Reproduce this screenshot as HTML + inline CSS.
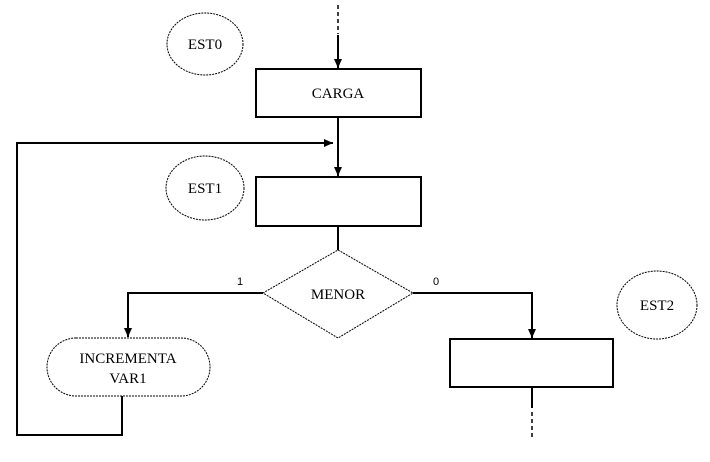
<!DOCTYPE html>
<html><head><meta charset="utf-8"><style>html,body{margin:0;padding:0;background:#fff}svg{display:block}</style></head>
<body>
<svg width="710" height="462" viewBox="0 0 710 462" xmlns="http://www.w3.org/2000/svg" font-family="Liberation Serif, serif" font-size="15" fill="none" stroke="#000" stroke-width="2">
<defs><marker id="a" markerWidth="10" markerHeight="10" refX="9" refY="5" orient="auto" markerUnits="userSpaceOnUse"><path d="M0,1 L9,5 L0,9 z" fill="#000" stroke="none"/></marker></defs>
<line x1="338" y1="5" x2="338" y2="34" stroke-width="1.5" stroke-dasharray="4,3"/>
<line x1="338" y1="35" x2="338" y2="68" marker-end="url(#a)"/>
<ellipse cx="205" cy="44" rx="38" ry="31" stroke-width="1" stroke-dasharray="2,1"/>
<rect x="256" y="69" width="165" height="48"/>
<line x1="338" y1="117" x2="338" y2="176" marker-end="url(#a)"/>
<polyline points="122,396 122,435 17,435 17,143 333,143" marker-end="url(#a)"/>
<ellipse cx="205" cy="188" rx="39" ry="32" stroke-width="1" stroke-dasharray="2,1"/>
<rect x="256" y="177" width="165" height="49"/>
<line x1="338" y1="226" x2="338" y2="250"/>
<polygon points="338,250 413,293 338,338 263,293" stroke-width="1" stroke-dasharray="2,1"/>
<polyline points="263,293 128,293 128,337" marker-end="url(#a)"/>
<polyline points="413,293 532,293 532,338" marker-end="url(#a)"/>
<rect x="47" y="338" width="163" height="58" rx="29" ry="29" stroke-width="1" stroke-dasharray="2,1"/>
<rect x="450" y="339" width="163" height="48"/>
<line x1="532" y1="387" x2="532" y2="408"/>
<line x1="532" y1="412" x2="532" y2="438" stroke-width="1.5" stroke-dasharray="4,3"/>
<ellipse cx="657" cy="305" rx="40" ry="34" stroke-width="1" stroke-dasharray="2,1"/>
<g fill="#000" stroke="none" text-anchor="middle">
<text x="205" y="49">EST0</text>
<text x="338" y="98">CARGA</text>
<text x="205" y="193">EST1</text>
<text x="338" y="299">MENOR</text>
<text x="657" y="310">EST2</text>
<text x="128" y="363">INCREMENTA</text>
<text x="128" y="383">VAR1</text>
<text x="240" y="285" font-family="Liberation Sans, sans-serif" font-size="11">1</text>
<text x="436" y="285" font-family="Liberation Sans, sans-serif" font-size="11">0</text>
</g>
</svg>
</body></html>
